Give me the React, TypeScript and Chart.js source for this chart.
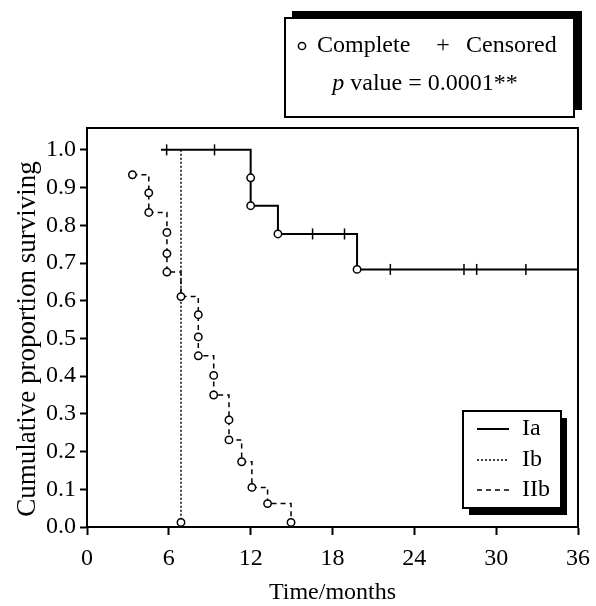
import React, { useEffect, useRef } from 'react';
import { Chart, registerables } from 'chart.js';

Chart.register(...registerables);

// ---- data ----
const xTickValues = [0, 6, 12, 18, 24, 30, 36];
const yTickValues = [0, 0.1, 0.2, 0.3, 0.4, 0.5, 0.6, 0.7, 0.8, 0.9, 1.0];

const seriesNames = ['Ia', 'Ib', 'IIb'];

// 'o' = complete (event), '+' = censored, '' = no mark
const iaTimes = [5.43, 5.84, 9.35, 12.0, 12.0, 14.0, 16.54, 18.88, 19.8, 22.24, 27.64, 28.57, 32.18, 36];
const iaSurv = [1.0, 1.0, 1.0, 0.926, 0.852, 0.777, 0.777, 0.777, 0.683, 0.683, 0.683, 0.683, 0.683, 0.683];
const iaMarks = ['', '+', '+', 'o', 'o', 'o', '+', '+', 'o', '+', '+', '+', '+', ''];

const ibTimes = [6.89, 6.89];
const ibSurv = [1.0, 0.012];
const ibMarks = ['', 'o'];

const iibTimes = [3.33, 4.53, 4.53, 5.86, 5.86, 5.86, 6.89, 8.16, 8.16, 8.16, 9.29, 9.29, 10.41, 10.41, 11.34, 12.09, 13.24, 14.96];
const iibSurv = [0.934, 0.886, 0.834, 0.781, 0.725, 0.676, 0.611, 0.563, 0.504, 0.454, 0.402, 0.35, 0.284, 0.231, 0.173, 0.105, 0.062, 0.012];
const iibMarks = ['o', 'o', 'o', 'o', 'o', 'o', 'o', 'o', 'o', 'o', 'o', 'o', 'o', 'o', 'o', 'o', 'o', 'o'];

const xTitle = 'Time/months';
const yTitle = 'Cumulative proportion surviving';
const legendComplete = 'Complete';
const legendCensored = 'Censored';
const pValueText = ' value = 0.0001**';

const FONT = '"Liberation Serif", "Times New Roman", serif';

function toPoints(t: number[], s: number[]) {
  return t.map((x, i) => ({ x, y: s[i] }));
}

function makeDataset(label: string, t: number[], s: number[], marks: string[], dash: number[], width: number, order: number) {
  return {
    label,
    data: toPoints(t, s),
    showLine: true,
    stepped: 'before' as const,
    borderColor: '#000',
    borderWidth: width,
    borderDash: dash,
    clip: false as const,
    order,
    pointStyle: (c: any) => (marks[c.dataIndex] === '+' ? 'line' : 'circle'),
    pointRotation: (c: any) => (marks[c.dataIndex] === '+' ? 90 : 0),
    pointRadius: (c: any) => (marks[c.dataIndex] === '' ? 0 : marks[c.dataIndex] === '+' ? 5.5 : 3.7),
    pointBorderWidth: 1.5,
    pointBorderColor: '#000',
    pointBackgroundColor: '#fff',
  };
}

const overlay = {
  id: 'overlay',
  afterDraw(chart: any) {
    const ctx: CanvasRenderingContext2D = chart.ctx;
    const a = chart.chartArea;
    ctx.save();
    // frame top & right
    ctx.strokeStyle = '#000';
    ctx.lineWidth = 2;
    ctx.beginPath();
    ctx.moveTo(a.left - 1, a.top);
    ctx.lineTo(a.right, a.top);
    ctx.lineTo(a.right, a.bottom);
    ctx.stroke();

    // y title
    ctx.save();
    ctx.translate(28, 339);
    ctx.rotate(-Math.PI / 2);
    ctx.font = `27px ${FONT}`;
    ctx.fillStyle = '#000';
    ctx.textAlign = 'center';
    ctx.textBaseline = 'middle';
    ctx.fillText(yTitle, 0, 0);
    ctx.restore();

    // top legend box
    ctx.fillStyle = '#000';
    ctx.fillRect(292, 11, 290, 99);
    ctx.fillStyle = '#fff';
    ctx.fillRect(285, 18, 289, 99);
    ctx.strokeStyle = '#000';
    ctx.lineWidth = 2;
    ctx.strokeRect(285, 18, 289, 99);

    ctx.fillStyle = '#000';
    ctx.font = `24px ${FONT}`;
    ctx.textBaseline = 'middle';
    ctx.textAlign = 'left';
    ctx.beginPath();
    ctx.arc(302, 46, 3.6, 0, Math.PI * 2);
    ctx.lineWidth = 1.5;
    ctx.stroke();
    ctx.fillText(legendComplete, 317, 46);
    ctx.textAlign = 'center';
    ctx.fillText('+', 443, 46);
    ctx.textAlign = 'left';
    ctx.fillText(legendCensored, 466, 46);
    // p value line
    ctx.font = `italic 24px ${FONT}`;
    const pw = ctx.measureText('p').width;
    ctx.font = `24px ${FONT}`;
    const rw = ctx.measureText(pValueText).width;
    const startX = 425 - (pw + rw) / 2;
    ctx.font = `italic 24px ${FONT}`;
    ctx.fillText('p', startX, 84);
    ctx.font = `24px ${FONT}`;
    ctx.fillText(pValueText, startX + pw, 84);

    // bottom-right legend
    ctx.fillStyle = '#000';
    ctx.fillRect(469, 418, 98, 97);
    ctx.fillStyle = '#fff';
    ctx.fillRect(463, 411, 98, 97);
    ctx.lineWidth = 2;
    ctx.strokeRect(463, 411, 98, 97);
    const rows = [429, 460, 490];
    const dashes = [[], [2, 2], [5, 4]];
    const widths = [2, 1.5, 1.5];
    seriesNames.forEach((name, i) => {
      ctx.save();
      ctx.setLineDash(dashes[i]);
      ctx.lineWidth = widths[i];
      ctx.beginPath();
      ctx.moveTo(477, rows[i]);
      ctx.lineTo(509, rows[i]);
      ctx.stroke();
      ctx.restore();
      ctx.fillStyle = '#000';
      ctx.textAlign = 'left';
      ctx.fillText(name, 522, rows[i]);
    });
    ctx.restore();
  },
};

export default function App() {
  const ref = useRef<HTMLCanvasElement>(null);
  useEffect(() => {
    if (!ref.current) return;
    Chart.defaults.font.family = FONT;
    Chart.defaults.color = '#000';
    const chart = new Chart(ref.current, {
      type: 'scatter',
      data: {
        datasets: [
          makeDataset(seriesNames[2], iibTimes, iibSurv, iibMarks, [5, 4], 1.5, 0),
          makeDataset(seriesNames[0], iaTimes, iaSurv, iaMarks, [], 2, 1),
          makeDataset(seriesNames[1], ibTimes, ibSurv, ibMarks, [2, 2], 1.5, 2),
        ] as any,
      },
      options: {
        animation: false,
        responsive: false,
        events: [],
        layout: { padding: { top: 128, right: 18, left: 0, bottom: 0 } },
        plugins: { legend: { display: false }, tooltip: { enabled: false } },
        scales: {
          x: {
            type: 'linear',
            min: 0,
            max: 36,
            afterFit: (s: any) => { s.height = 79; s.paddingLeft = 0; s.paddingRight = 0; },
            afterBuildTicks: (s: any) => { s.ticks = xTickValues.map((v) => ({ value: v })); },
            ticks: { font: { size: 24 }, color: '#000', padding: 9, maxRotation: 0 },
            grid: { drawOnChartArea: false, drawTicks: true, tickLength: 8, tickWidth: 2, tickColor: '#000' },
            border: { display: true, color: '#000', width: 2 },
            title: { display: true, text: xTitle, font: { size: 24, lineHeight: 1.1 }, color: '#000', padding: { top: 0, bottom: 0 } },
          },
          y: {
            type: 'linear',
            min: 0,
            max: 1.058,
            afterFit: (s: any) => { s.width = 87; s.paddingTop = 0; s.paddingBottom = 0; },
            afterBuildTicks: (s: any) => { s.ticks = yTickValues.map((v) => ({ value: v })); },
            ticks: { font: { size: 24 }, color: '#000', padding: 4, callback: (v: any) => Number(v).toFixed(1) },
            grid: { drawOnChartArea: false, drawTicks: true, tickLength: 7, tickWidth: 2, tickColor: '#000' },
            border: { display: true, color: '#000', width: 2 },
          },
        },
      },
      plugins: [overlay],
    });
    return () => chart.destroy();
  }, []);
  return (
    <div style={{ position: 'fixed', left: 0, top: 0, width: 596, height: 606, background: '#fff' }}>
      <canvas ref={ref} width={596} height={606} style={{ width: 596, height: 606, display: 'block' }} />
    </div>
  );
}
